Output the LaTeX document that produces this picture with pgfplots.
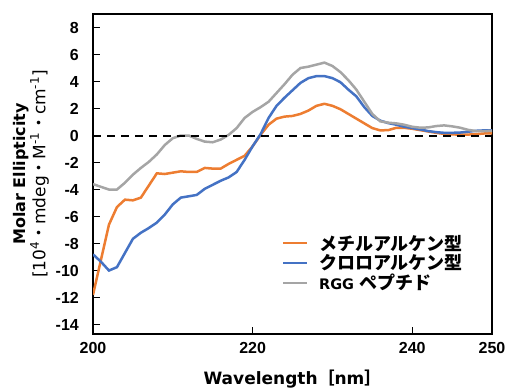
\documentclass[border=0pt]{standalone}
\usepackage{fontspec}
\setmainfont{Liberation Sans}
\newfontfamily\dv{DejaVu Sans}
\newfontfamily\jp{Noto Sans CJK JP}
\usepackage{pgfplots}
\pgfplotsset{compat=1.18}
\definecolor{corange}{HTML}{ED7D31}
\definecolor{cblue}{HTML}{4472C4}
\definecolor{cgray}{HTML}{A5A5A5}
\begin{document}
\begin{tikzpicture}
\begin{axis}[name=ax, scale only axis, width=399pt, height=320pt,
  xmin=200, xmax=250, ymin=-14.7, ymax=9,
  xtick={200,220,240,250}, ytick={-14,-12,...,8},
  tick pos=left, tick align=inside, major tick length=7pt,
  tick style={black, line width=1.3pt},
  axis line style={black, line width=1.8pt},
  /pgf/number format/assume math mode=true,
  ticklabel style={font=\fontsize{16}{18}\selectfont\bfseries, inner sep=0pt},
  yticklabel style={xshift=-14pt},
  xticklabel style={yshift=-8pt},
  legend cell align=left,
  legend image code/.code={\draw[#1, line width=2pt] (0pt,0pt) -- (24pt,0pt);},
  legend style={draw=none, fill=none, at={(0.466,0.316)}, anchor=north west,
    font=\fontsize{18}{20}\selectfont\bfseries, row sep=3pt,
    nodes={inner sep=0pt},
    /tikz/every odd column/.append style={column sep=11pt}},
]
\addplot[corange, line width=2.5pt] coordinates {
(200,-11.8)(201,-9.2)(202,-6.6)(203,-5.3)(204,-4.75)(205,-4.8)(206,-4.6)(207,-3.7)(208,-2.8)(209,-2.85)(210,-2.75)(211,-2.65)(212,-2.7)(213,-2.7)(214,-2.4)(215,-2.45)(216,-2.45)(217,-2.1)(218,-1.8)(219,-1.5)(220,-0.8)(221,0.05)(222,0.8)(223,1.25)(224,1.4)(225,1.45)(226,1.6)(227,1.85)(228,2.2)(229,2.35)(230,2.2)(231,1.95)(232,1.6)(233,1.25)(234,0.9)(235,0.55)(236,0.38)(237,0.4)(238,0.57)(239,0.57)(240,0.5)(241,0.4)(242,0.3)(243,0.2)(244,0.12)(245,0.08)(246,0.07)(247,0.07)(248,0.1)(249,0.15)(250,0.15)};
\addlegendentry{{\jp メチルアルケン型}}
\addplot[cblue, line width=2.5pt] coordinates {
(200,-8.8)(201,-9.35)(202,-10.0)(203,-9.75)(204,-8.7)(205,-7.65)(206,-7.2)(207,-6.85)(208,-6.45)(209,-5.85)(210,-5.1)(211,-4.6)(212,-4.5)(213,-4.4)(214,-3.95)(215,-3.65)(216,-3.35)(217,-3.1)(218,-2.7)(219,-1.8)(220,-0.8)(221,0.1)(222,1.3)(223,2.2)(224,2.8)(225,3.35)(226,3.9)(227,4.25)(228,4.4)(229,4.4)(230,4.25)(231,3.95)(232,3.4)(233,2.9)(234,2.1)(235,1.45)(236,1.1)(237,0.92)(238,0.8)(239,0.65)(240,0.55)(241,0.45)(242,0.33)(243,0.25)(244,0.2)(245,0.2)(246,0.22)(247,0.28)(248,0.35)(249,0.38)(250,0.38)};
\addlegendentry{{\jp クロロアルケン型}}
\addplot[cgray, line width=2.5pt] coordinates {
(200,-3.6)(201,-3.8)(202,-4.0)(203,-4.0)(204,-3.5)(205,-2.9)(206,-2.4)(207,-1.95)(208,-1.4)(209,-0.7)(210,-0.2)(211,0.0)(212,0.0)(213,-0.25)(214,-0.45)(215,-0.5)(216,-0.3)(217,0.05)(218,0.55)(219,1.3)(220,1.75)(221,2.1)(222,2.5)(223,3.15)(224,3.8)(225,4.5)(226,5.0)(227,5.1)(228,5.25)(229,5.4)(230,5.15)(231,4.7)(232,4.1)(233,3.4)(234,2.5)(235,1.6)(236,1.05)(237,0.95)(238,0.9)(239,0.8)(240,0.65)(241,0.58)(242,0.6)(243,0.7)(244,0.75)(245,0.68)(246,0.58)(247,0.42)(248,0.33)(249,0.32)(250,0.35)};
\addlegendentry{{\fontsize{14.5}{16}\selectfont\dv\bfseries RGG} {\jp ペプチド}}
\addplot[black, line width=2pt, dash pattern=on 8pt off 6pt, forget plot] coordinates {(200,0)(250,0)};
\end{axis}
\node[rotate=90, anchor=south, align=center, inner sep=0pt, font=\fontsize{17}{20}\selectfont]
  at ([xshift=-44pt]ax.west)
  {{\dv\bfseries\fontsize{16}{19}\selectfont Molar Ellipticity}\\
   {\dv[10\textsuperscript{4}{\jp ・}mdeg{\jp ・}M\textsuperscript{-1}{\jp ・}cm\textsuperscript{-1}]}};
\node[anchor=north, inner sep=0pt, font=\fontsize{17}{20}\selectfont\bfseries\dv]
  at ([yshift=-36pt]ax.south) {Wavelength{\jp ［}nm{\jp ］}};
\pgfresetboundingbox
\path[use as bounding box] ([shift={(-93pt,-55pt)}]ax.south west) rectangle ([shift={(15pt,14pt)}]ax.north east);
\end{tikzpicture}
\end{document}
